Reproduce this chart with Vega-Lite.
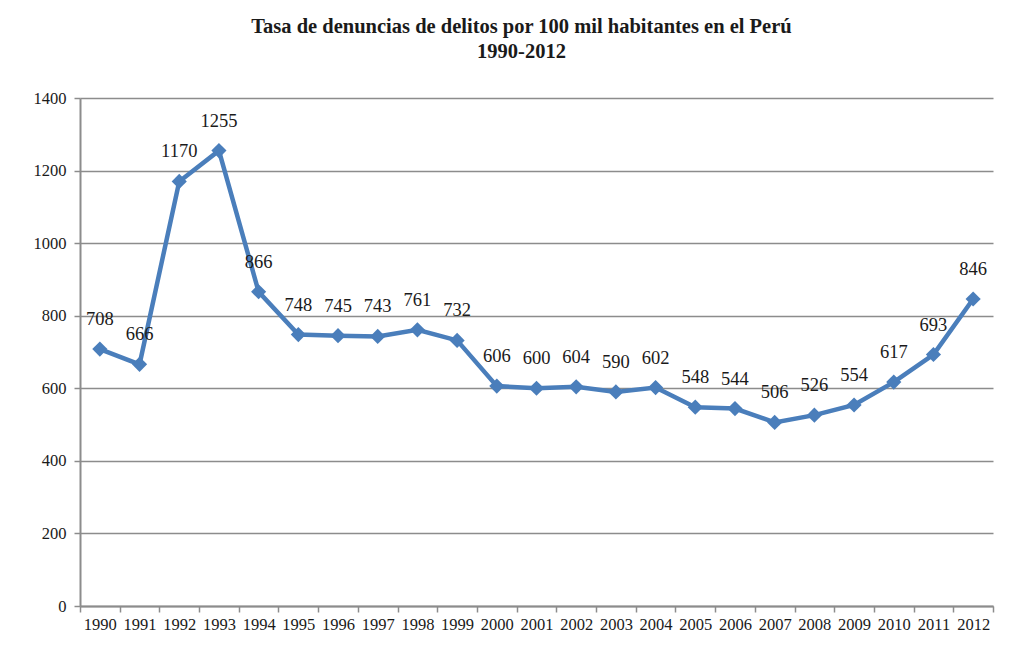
{
  "$schema": "https://vega.github.io/schema/vega-lite/v6.json",
  "autosize": "none",
  "width": 913,
  "height": 508,
  "padding": {"left": 80, "top": 98, "right": 34, "bottom": 58},
  "background": "white",
  "title": {
    "text": ["Tasa de denuncias de delitos por 100 mil habitantes en el Perú", "1990-2012"],
    "font": "'Liberation Serif', 'Times New Roman', 'DejaVu Serif', serif",
    "fontSize": 20.5,
    "fontWeight": "bold",
    "lineHeight": 25,
    "color": "#1a1a1a",
    "anchor": "middle",
    "dx": -15,
    "offset": 28
  },
  "config": {
    "view": {"stroke": null},
    "axis": {
      "labelFont": "'Liberation Serif', 'Times New Roman', 'DejaVu Serif', serif",
      "labelColor": "#1a1a1a",
      "domainColor": "#8c8c8c",
      "domainWidth": 2,
      "tickColor": "#8c8c8c",
      "tickWidth": 1.5,
      "tickSize": 6,
      "gridColor": "#8c8c8c",
      "gridWidth": 1.5,
      "title": null
    }
  },
  "data": {
    "values": [
      {"year": "1990", "value": 708},
      {"year": "1991", "value": 666},
      {"year": "1992", "value": 1170},
      {"year": "1993", "value": 1255},
      {"year": "1994", "value": 866},
      {"year": "1995", "value": 748},
      {"year": "1996", "value": 745},
      {"year": "1997", "value": 743},
      {"year": "1998", "value": 761},
      {"year": "1999", "value": 732},
      {"year": "2000", "value": 606},
      {"year": "2001", "value": 600},
      {"year": "2002", "value": 604},
      {"year": "2003", "value": 590},
      {"year": "2004", "value": 602},
      {"year": "2005", "value": 548},
      {"year": "2006", "value": 544},
      {"year": "2007", "value": 506},
      {"year": "2008", "value": 526},
      {"year": "2009", "value": 554},
      {"year": "2010", "value": 617},
      {"year": "2011", "value": 693},
      {"year": "2012", "value": 846}
    ]
  },
  "encoding": {
    "x": {
      "field": "year",
      "type": "ordinal",
      "scale": {"type": "band", "paddingInner": 0, "paddingOuter": 0},
      "axis": {
        "labelAngle": 0,
        "labelFontSize": 16.5,
        "labelPadding": 4,
        "tickBand": "extent",
        "grid": false
      }
    },
    "y": {
      "field": "value",
      "type": "quantitative",
      "scale": {"domain": [0, 1400], "nice": false},
      "axis": {
        "values": [0, 200, 400, 600, 800, 1000, 1200, 1400],
        "format": "d",
        "labelFontSize": 16.5,
        "labelPadding": 8,
        "grid": true
      }
    }
  },
  "layer": [
    {
      "mark": {"type": "line", "color": "#4a7ebb", "strokeWidth": 4.5}
    },
    {
      "mark": {"type": "point", "shape": "diamond", "filled": true, "color": "#4a7ebb", "size": 230, "opacity": 1}
    },
    {
      "mark": {"type": "text", "font": "'Liberation Serif', 'Times New Roman', 'DejaVu Serif', serif", "fontSize": 18.5, "color": "#1a1a1a", "dy": -30, "baseline": "middle"},
      "encoding": {"text": {"field": "value", "type": "quantitative"}}
    }
  ]
}
